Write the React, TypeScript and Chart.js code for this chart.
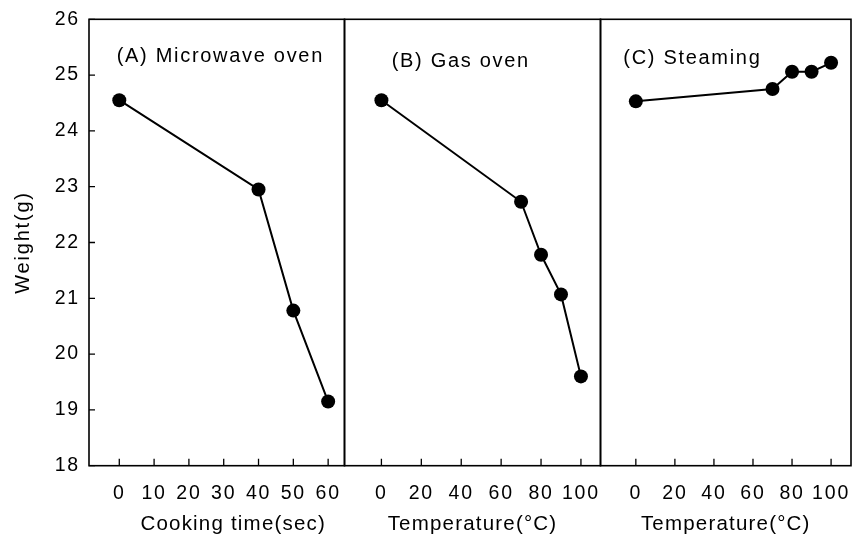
import React, { useEffect, useRef } from 'react';
import { Chart, registerables } from 'chart.js';

Chart.register(...registerables);

// ---- data ----
const yTicks = [18, 19, 20, 21, 22, 23, 24, 25, 26];
const yTitle = 'Weight(g)';

const microwaveTime = [0, 40, 50, 60];
const microwaveWeight = [24.55, 22.95, 20.78, 19.15];

const gasTemp = [0, 70, 80, 90, 100];
const gasWeight = [24.55, 22.73, 21.78, 21.07, 19.6];

const steamTemp = [0, 70, 80, 90, 100];
const steamWeight = [24.53, 24.75, 25.06, 25.06, 25.22];

const timeTicks = [0, 10, 20, 30, 40, 50, 60];
const tempTicks = [0, 20, 40, 60, 80, 100];

const panelTitles = ['(A) Microwave oven', '(B) Gas oven', '(C) Steaming'];
const xTitles = ['Cooking time(sec)', 'Temperature(°C)', 'Temperature(°C)'];

// ---- layout / style ----
const W = 858;
const H = 535;
const FONT = '"Liberation Sans", Arial, Helvetica, sans-serif';
const TOP = 19.3;
const XAXIS_H = H - 465.7;

const panels = [
  { xs: microwaveTime, ys: microwaveWeight, ticks: timeTicks, min: -8.7, max: 64.7, left: 0, right: W - 344.5, yAxis: true, titleDx: 27.7, titleY: 62.3, xTitleDx: 16.5 },
  { xs: gasTemp, ys: gasWeight, ticks: tempTicks, min: -18.5, max: 109.8, left: 344.5, right: W - 600.5, yAxis: false, titleDx: 47.2, titleY: 66.5, xTitleDx: 0 },
  { xs: steamTemp, ys: steamWeight, ticks: tempTicks, min: -18.1, max: 110.2, left: 600.5, right: W - 857, yAxis: false, titleDx: 22.8, titleY: 64.2, xTitleDx: 0 },
];

const framePlugin = {
  id: 'frameTicks',
  beforeDraw(chart: any) {
    chart.ctx.letterSpacing = '1.8px';
  },
  beforeDatasetsDraw(chart: any, _args: any, opts: any) {
    const { ctx, chartArea: a } = chart;
    ctx.save();
    ctx.strokeStyle = '#000';
    ctx.lineWidth = 1.6;
    ctx.strokeRect(a.left, a.top, a.right - a.left, a.bottom - a.top);
    ctx.lineWidth = 1.3;
    ctx.beginPath();
    const xs = chart.scales.x;
    for (const t of xs.ticks) {
      const px = xs.getPixelForValue(t.value);
      ctx.moveTo(px, a.bottom);
      ctx.lineTo(px, a.bottom - 7);
    }
    if (opts.yTicks) {
      const ys = chart.scales.y;
      for (const t of ys.ticks) {
        const py = ys.getPixelForValue(t.value);
        ctx.moveTo(a.left, py);
        ctx.lineTo(a.left + 6, py);
      }
    }
    ctx.stroke();
    ctx.restore();
  },
  afterDraw(chart: any, _args: any, opts: any) {
    const { ctx, chartArea: a } = chart;
    ctx.save();
    ctx.fillStyle = '#000';
    ctx.letterSpacing = '1.7px';
    ctx.textBaseline = 'alphabetic';
    ctx.font = `20px ${FONT}`;
    ctx.textAlign = 'left';
    ctx.fillText(opts.title, a.left + opts.titleDx, opts.titleY);
    ctx.font = `20.5px ${FONT}`;
    ctx.letterSpacing = '1.2px';
    ctx.textAlign = 'center';
    ctx.fillText(opts.xTitle, (a.left + a.right) / 2 + opts.xTitleDx, 529.5);
    ctx.restore();
  },
};

export default function App() {
  const refs = [useRef<HTMLCanvasElement>(null), useRef<HTMLCanvasElement>(null), useRef<HTMLCanvasElement>(null)];

  useEffect(() => {
    const charts = panels.map((p, i) => {
      const canvas = refs[i].current!;
      return new Chart(canvas, {
        type: 'line',
        data: {
          datasets: [
            {
              data: p.xs.map((x, k) => ({ x, y: p.ys[k] })),
              borderColor: '#000',
              borderWidth: 2,
              pointRadius: 7,
              pointBackgroundColor: '#000',
              pointBorderColor: '#000',
              pointBorderWidth: 0,
              tension: 0,
              fill: false,
            },
          ],
        },
        options: {
          responsive: false,
          animation: false,
          devicePixelRatio: 1,
          layout: { padding: { left: p.left, right: p.right, top: TOP, bottom: 0 } },
          plugins: {
            legend: { display: false },
            tooltip: { enabled: false },
            frameTicks: {
              yTicks: p.yAxis,
              title: panelTitles[i],
              titleDx: p.titleDx,
              titleY: p.titleY,
              xTitle: xTitles[i],
              xTitleDx: p.xTitleDx,
            },
          } as any,
          scales: {
            x: {
              type: 'linear',
              min: p.min,
              max: p.max,
              afterBuildTicks: (s: any) => {
                s.ticks = p.ticks.map((v) => ({ value: v }));
              },
              afterFit: (s: any) => {
                s.height = XAXIS_H;
                s.paddingLeft = 0;
                s.paddingRight = 0;
              },
              grid: { display: false, drawTicks: false },
              border: { display: false },
              ticks: {
                color: '#000',
                font: { family: FONT, size: 19.5 },
                padding: 16,
                maxRotation: 0,
                autoSkip: false,
              },
              title: { display: false },
            },
            y: {
              type: 'linear',
              display: p.yAxis,
              min: 18,
              max: 26,
              afterBuildTicks: (s: any) => {
                s.ticks = yTicks.map((v) => ({ value: v }));
              },
              afterFit: (s: any) => {
                s.width = p.yAxis ? 89 : 0;
                s.paddingTop = 0;
                s.paddingBottom = 0;
              },
              grid: { display: false, drawTicks: false },
              border: { display: false },
              ticks: {
                color: '#000',
                font: { family: FONT, size: 19.5 },
                padding: 9,
                autoSkip: false,
              },
              title: {
                display: true,
                text: yTitle,
                color: '#000',
                font: { family: FONT, size: 20 },
                padding: { top: 11.5, bottom: 0 },
              },
            },
          },
        },
        plugins: [framePlugin],
      } as any);
    });
    return () => charts.forEach((c) => c.destroy());
  }, []);

  return (
    <div style={{ position: 'fixed', left: 0, top: 0, width: W, height: H, background: '#fff' }}>
      {refs.map((r, i) => (
        <canvas
          key={i}
          ref={r}
          width={W}
          height={H}
          style={{ position: 'absolute', left: 0, top: 0, width: W, height: H }}
        />
      ))}
    </div>
  );
}
